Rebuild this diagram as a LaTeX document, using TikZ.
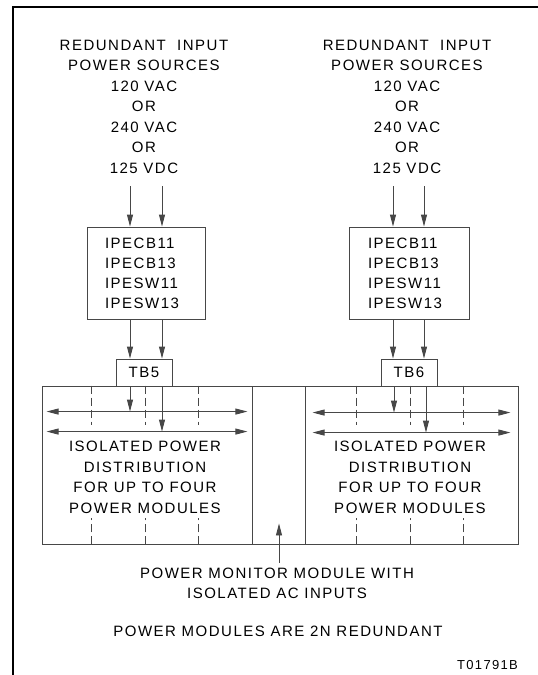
\documentclass[tikz,border=0pt]{standalone}
\usepackage{fontspec}
\setmainfont{Liberation Sans}[LetterSpace=10]
\usetikzlibrary{arrows.meta,calc}
\begin{document}
\begin{tikzpicture}[x=1pt,y=-1pt,
  txt/.style={font=\fontsize{15}{20.5}\selectfont, align=center, inner sep=0pt, text=black},
  ln/.style={draw=black!72, line width=0.9pt},
  arr/.style={ln, -{Triangle[length=12pt,width=6pt]}},
  darr/.style={ln, {Triangle[length=12pt,width=6pt]}-{Triangle[length=12pt,width=6pt]}},
  dsh/.style={ln, dash pattern=on 8pt off 4pt},
  box/.style={ln, rectangle, inner sep=0pt},
  ipbox/.style={box, font=\fontsize{15}{20}\selectfont, align=left, inner ysep=0pt, minimum height=92pt, text=black},
  tbbox/.style={box, font=\fontsize{15}{18}\selectfont, minimum width=56pt, minimum height=27pt, text=black}]
\useasboundingbox (0,0) rectangle (538,675);
\clip (0,0) rectangle (538,675);
% frame
\draw[black, line width=1.3pt] (13,675) -- (13,7) -- (538,7);

% source texts
\node[txt, anchor=north] (srcL) at (144,39.6) {REDUNDANT~~INPUT\\POWER SOURCES\\120 VAC\\OR\\240 VAC\\OR\\125 VDC};
\node[txt, anchor=north] (srcR) at (407,39.6) {REDUNDANT~~INPUT\\POWER SOURCES\\120 VAC\\OR\\240 VAC\\OR\\125 VDC};

% breaker boxes
\node[ipbox, minimum width=118pt, text width=82pt, inner xsep=18pt] (ipL) at (146,273) {IPECB11\\IPECB13\\IPESW11\\IPESW13};
\node[ipbox, minimum width=120pt, text width=82pt, inner xsep=19pt] (ipR) at (409,273) {IPECB11\\IPECB13\\IPESW11\\IPESW13};

% terminal blocks
\node[tbbox] (tb5) at (144,372.5) {TB5};
\node[tbbox] (tb6) at (409,372.5) {TB6};

% distribution boxes
\node[box, minimum width=210pt, minimum height=158pt] (bigL) at (147,465) {};
\node[box, minimum width=53pt, minimum height=158pt] (mid) at (278.5,465) {};
\node[box, minimum width=213pt, minimum height=158pt] (bigR) at (411.5,465) {};

\node[txt] (distL) at (145,477.5) {ISOLATED POWER\\DISTRIBUTION\\FOR UP TO FOUR\\POWER MODULES};
\node[txt] (distR) at (410,477.5) {ISOLATED POWER\\DISTRIBUTION\\FOR UP TO FOUR\\POWER MODULES};

% arrow x positions
\path (ipL.north) ++(-16,0) coordinate (xLa) ++(32,0) coordinate (xLb);
\path (ipR.north) ++(-16,0) coordinate (xRa) ++(31,0) coordinate (xRb);
\path (ipR.north) ++(-15,0) coordinate (xRc) ++(32,0) coordinate (xRd);

% source arrows
\foreach \c in {xLa,xLb} \draw[arr, shorten <=13pt] (\c |- srcL.south) -- (\c |- ipL.north);
\foreach \c in {xRa,xRb} \draw[arr, shorten <=13pt] (\c |- srcR.south) -- (\c |- ipR.north);
% breaker to TB
\foreach \c in {xLa,xLb} \draw[arr] (\c |- ipL.south) -- (\c |- tb5.north);
\foreach \c in {xRa,xRb} \draw[arr] (\c |- ipR.south) -- (\c |- tb6.north);

% bus arrows
\draw[darr] ($(bigL.north west)+(5,26)$) coordinate (L1w) -- ($(bigL.north east)+(-5,26)$) coordinate (L1e);
\draw[darr] ($(bigL.north west)+(5,46)$) coordinate (L2w) -- ($(bigL.north east)+(-5,46)$) coordinate (L2e);
\draw[darr] ($(bigR.north west)+(8,27)$) coordinate (R1w) -- ($(bigR.north east)+(-8,27)$) coordinate (R1e);
\draw[darr] ($(bigR.north west)+(8,47)$) coordinate (R2w) -- ($(bigR.north east)+(-8,47)$) coordinate (R2e);

% TB to bus
\draw[arr] (xLa |- tb5.south) -- (xLa |- L1w);
\draw[arr] (xLb |- tb5.south) -- (xLb |- L2w);
\draw[arr] (xRc |- tb6.south) -- (xRc |- R1w);
\draw[arr] (xRd |- tb6.south) -- (xRd |- R2w);

% dashed separators
\foreach \x in {50,104,157} {
  \draw[dsh] ($(bigL.north west)+(\x,0)$) -- ++(0,39);
  \draw[dsh] ($(bigL.south west)+(\x,0)$) -- ++(0,-26);
}
\foreach \x in {52,106,159} {
  \draw[dsh] ($(bigR.north west)+(\x,0)$) -- ++(0,39);
  \draw[dsh] ($(bigR.south west)+(\x,0)$) -- ++(0,-26);
}

% monitor label and arrow
\node[txt, anchor=north] (mon) at (277,567.6) {POWER MONITOR MODULE WITH\\ISOLATED AC INPUTS};
\coordinate (montip) at ($(mid.south)+(0.5,-21)$);
\draw[arr, shorten <=5pt] (montip |- mon.north) -- (montip);

\node[txt] (red) at (278,631) {POWER MODULES ARE 2N REDUNDANT};
\node[txt, font=\fontsize{13}{15}\selectfont, anchor=north] (code) at (487.5,660) {T01791B};
\end{tikzpicture}
\end{document}
